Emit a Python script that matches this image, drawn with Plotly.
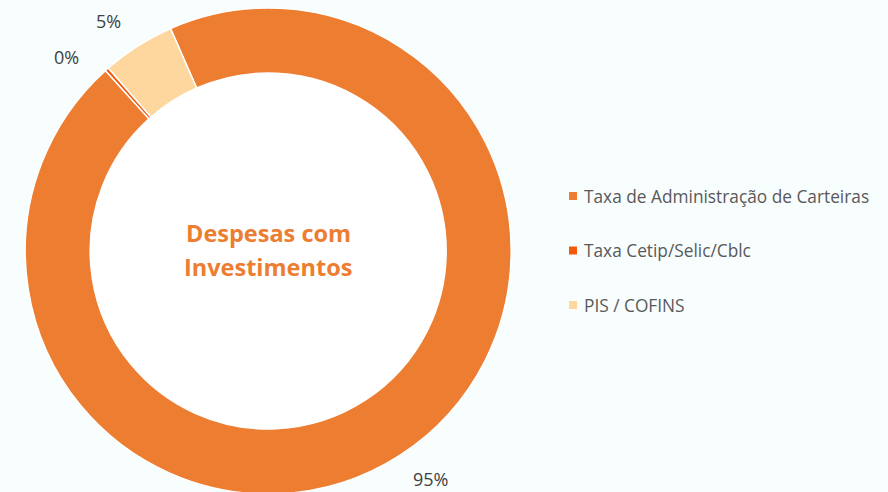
import math
import plotly.graph_objects as go

# ---- data ----
categories = ["Taxa de Administração de Carteiras", "Taxa Cetip/Selic/Cblc", "PIS / COFINS"]
values = [94.9, 0.25, 4.85]
colors = ["#ED7D31", "#F45A0A", "#FDD79E"]
center_title = ["Despesas com", "Investimentos"]

# ---- geometry / layout constants (pixels) ----
W, H = 888, 502
CX, CY = 268.2, 251.0
R_OUT, R_IN = 243.0, 178.0
ROTATION = -23.7
LABEL_R = 280.0
label_angle_nudge = [-2.6, -4.4, -2.3]
BG = "#F8FDFE"

def px(x):
    return x / W

def py(y):
    return 1 - y / H

fig = go.Figure()
fig.add_trace(go.Pie(
    labels=categories,
    values=values,
    hole=R_IN / R_OUT,
    sort=False,
    direction="clockwise",
    rotation=ROTATION,
    marker=dict(colors=colors, line=dict(color="white", width=1.5)),
    textinfo="none",
    hoverinfo="label+percent",
    showlegend=False,
    domain=dict(x=[px(CX - R_OUT), px(CX + R_OUT)], y=[0, 1]),
))

annotations = []
shapes = []

# white hole
shapes.append(dict(type="circle", xref="paper", yref="paper",
                   xsizemode="pixel", ysizemode="pixel",
                   xanchor=px(CX), yanchor=py(CY),
                   x0=-R_IN, x1=R_IN, y0=-R_IN, y1=R_IN,
                   fillcolor="white", line=dict(width=0), layer="below"))

# percentage labels
total = sum(values)
cum = 0.0
for i, v in enumerate(values):
    mid = ROTATION + (cum + v / 2) / total * 360 + label_angle_nudge[i]
    cum += v
    a = math.radians(mid)
    lx = CX + LABEL_R * math.sin(a)
    ly = CY - LABEL_R * math.cos(a)
    annotations.append(dict(x=px(lx), y=py(ly), xref="paper", yref="paper",
                            text=f"{round(v / total * 100)}%", showarrow=False,
                            xanchor="center", yanchor="middle",
                            font=dict(family="Open Sans", size=18, color="#404040")))

# center title
for j, line in enumerate(center_title):
    annotations.append(dict(x=px(CX), y=py(CY - 18 + 34 * j), xref="paper", yref="paper",
                            text=f"<b>{line}</b>", showarrow=False,
                            xanchor="center", yanchor="middle",
                            font=dict(family="Open Sans", size=23.5, color="#ED7D31")))

# legend
LEG_X, LEG_Y0, LEG_STEP, SQ = 573, 196, 54.5, 8
for i, (lab, col) in enumerate(zip(categories, colors)):
    yy = LEG_Y0 + i * LEG_STEP
    shapes.append(dict(type="rect", xref="paper", yref="paper",
                       x0=px(LEG_X - SQ / 2), x1=px(LEG_X + SQ / 2),
                       y0=py(yy + SQ / 2), y1=py(yy - SQ / 2),
                       fillcolor=col, line=dict(width=0)))
    annotations.append(dict(x=px(LEG_X + 9), y=py(yy), xref="paper", yref="paper",
                            text=lab, showarrow=False, xanchor="left", yanchor="middle",
                            font=dict(family="Open Sans", size=17.3, color="#595959")))

fig.update_layout(
    width=W, height=H,
    margin=dict(l=0, r=0, t=0, b=0),
    paper_bgcolor=BG, plot_bgcolor=BG,
    showlegend=False,
    annotations=annotations,
    shapes=shapes,
)

fig.write_html("out.html", config={"displayModeBar": False},
               post_script="document.body.style.margin='0';document.body.style.overflow='hidden';")
